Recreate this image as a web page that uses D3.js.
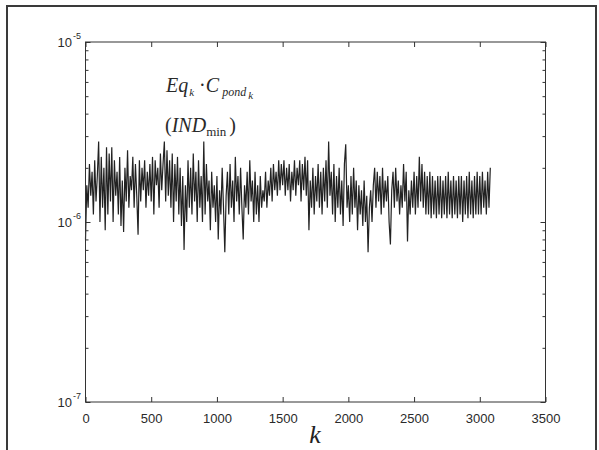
<!DOCTYPE html>
<html><head><meta charset="utf-8">
<script src="https://cdn.jsdelivr.net/npm/d3@7"></script>
<style>body{margin:0;background:#fff}svg{display:block}</style>
</head><body>
<svg id="c" width="599" height="450"></svg>
<script>
// Data: sampled every 10 iterations, values in units of 1e-6
const kStep = 10;
const valuesE6 = [
0.8,1.6,1.2,2.1,1.4,1.9,1.1,2.2,1.3,1.8,
2.8,1.0,2.3,1.2,2.0,0.9,2.6,1.1,2.4,1.3,
2.6,1.0,2.2,1.4,1.9,1.1,2.3,0.95,1.7,0.88,
2.0,1.3,2.5,1.2,1.8,1.5,2.3,1.2,2.1,1.4,
0.85,2.2,1.3,2.0,1.5,2.2,1.2,1.9,1.4,2.1,
1.3,2.3,1.1,2.2,1.6,2.0,1.2,2.4,1.5,2.1,
2.8,1.3,2.5,1.4,2.2,1.2,2.4,1.0,2.1,1.3,
2.3,1.1,2.0,0.95,1.8,0.7,1.6,1.0,2.2,1.2,
2.0,1.1,2.4,1.3,1.9,1.0,2.2,1.2,1.8,1.0,
2.8,1.1,2.1,1.3,1.7,0.9,1.9,1.2,1.6,1.0,
1.8,0.8,1.5,1.1,2.0,1.2,0.68,1.4,1.9,1.1,
2.1,1.2,1.7,1.0,2.3,1.3,1.8,1.1,2.0,1.2,
0.8,1.6,1.2,1.9,1.1,2.2,1.3,1.7,1.0,1.9,
1.1,1.6,1.0,1.8,1.2,1.5,1.3,1.9,1.2,1.7,
1.4,2.0,1.3,2.1,1.5,1.9,1.4,2.2,1.5,2.1,
1.6,2.2,1.4,2.0,1.5,2.1,1.3,1.9,1.5,2.2,
1.4,2.0,1.6,2.2,1.3,2.1,1.5,2.3,1.4,2.2,
0.9,1.7,1.2,2.0,1.1,1.8,1.3,2.1,1.2,1.9,
1.1,2.0,1.3,2.2,1.2,2.8,1.4,1.9,1.1,2.1,
1.0,1.8,1.2,2.0,1.1,1.7,0.95,2.1,2.7,1.2,
1.6,1.0,1.8,1.1,2.0,1.2,1.7,0.9,1.6,1.1,
1.5,0.95,1.7,1.0,1.4,0.68,1.2,1.5,1.0,1.6,
2.0,1.2,1.9,1.3,1.8,1.1,2.0,1.2,1.7,1.3,
1.8,1.0,0.75,1.5,1.9,1.2,2.0,1.3,1.7,1.1,
1.6,1.2,2.1,1.3,1.9,0.78,1.5,1.1,1.7,1.2,
1.9,1.1,1.8,1.2,2.3,1.3,2.1,1.2,1.9,1.1,
1.8,1.1,1.9,1.05,1.8,1.1,1.7,1.05,1.8,1.1,
1.8,1.05,1.7,1.1,1.8,1.05,1.9,1.1,1.7,1.05,
1.8,1.1,1.7,1.05,1.8,1.1,1.8,1.0,1.7,1.1,
1.8,1.05,1.9,1.1,1.7,1.05,1.8,1.1,1.9,1.1,
1.8,1.1,1.9,1.2,1.7,1.1,1.9,1.2,2.0
];
const xTicks = [0,500,1000,1500,2000,2500,3000,3500];
const yTicks = [1e-7,1e-6,1e-5];
const yTickExp = ["-7","-6","-5"];

const svg = d3.select("#c");
const L = 85.5, R = 545.5, T = 42, B = 402;
const x = d3.scaleLinear().domain([0,3500]).range([L,R]);
const y = d3.scaleLog().domain([1e-7,1e-5]).range([B,T]);

// outer frame
svg.append("rect").attr("x",7).attr("y",6).attr("width",589).attr("height",470)
  .attr("fill","none").attr("stroke","#3a3a3a").attr("stroke-width",2);

const data = valuesE6.map((v,i)=>({k:i*kStep, v:v*1e-6}));

// data line
svg.append("path").datum(data)
  .attr("fill","none").attr("stroke","#222").attr("stroke-width",1.2)
  .attr("stroke-linejoin","miter")
  .attr("d", d3.line().x(d=>x(d.k)).y(d=>y(d.v)));

// axes box
const axCol = "#333";
svg.append("rect").attr("x",L).attr("y",T).attr("width",R-L).attr("height",B-T)
  .attr("fill","none").attr("stroke",axCol).attr("stroke-width",1);

// x axis bottom & top (inward ticks)
const xb = svg.append("g").attr("transform",`translate(0,${B})`)
  .call(d3.axisBottom(x).tickValues(xTicks).tickSize(-5).tickPadding(12).tickFormat(d3.format("d")));
const xt = svg.append("g").attr("transform",`translate(0,${T})`)
  .call(d3.axisTop(x).tickValues(xTicks).tickSize(-5).tickFormat(""));
[xb,xt].forEach(g=>{g.select(".domain").remove(); g.selectAll("line").attr("stroke",axCol);});
xb.selectAll("text").attr("font-family","Arial, 'Liberation Sans', sans-serif")
  .attr("font-size",13).attr("fill","#2a2a2a");

// y minor/major ticks (log)
const yAll = [];
for (let e=-7;e<-5+0.01;e++) for (let m=1;m<=9;m++){ const v=m*Math.pow(10,e); if (v<=1e-5*1.0001) yAll.push(v);}
const yl = svg.append("g").attr("transform",`translate(${L},0)`)
  .call(d3.axisLeft(y).tickValues(yAll).tickSize(0).tickFormat(""));
const yr = svg.append("g").attr("transform",`translate(${R},0)`)
  .call(d3.axisRight(y).tickValues(yAll).tickSize(0).tickFormat(""));
[yl,yr].forEach((g,gi)=>{
  g.select(".domain").remove();
  g.selectAll(".tick line").attr("stroke",axCol).attr("x2",d=>{
    const isMajor = Math.abs(Math.log10(d)-Math.round(Math.log10(d)))<1e-6;
    const len = isMajor?5:3;
    return gi===0?len:-len;
  });
});

// y tick labels
const ylab = svg.append("g");
yTicks.forEach((t,i)=>{
  ylab.append("text").attr("x",72).attr("y",y(t)+5)
    .attr("text-anchor","end").attr("font-family","Arial, 'Liberation Sans', sans-serif")
    .attr("font-size",13).attr("fill","#2a2a2a").text("10");
  ylab.append("text").attr("x",73).attr("y",y(t)-3)
    .attr("font-family","Arial, 'Liberation Sans', sans-serif")
    .attr("font-size",9).attr("fill","#2a2a2a").text(yTickExp[i]);
});

// x label
svg.append("text").attr("x",315).attr("y",443).attr("text-anchor","middle")
  .attr("font-family","'Liberation Serif','Times New Roman',serif").attr("font-style","italic")
  .attr("font-size",26).attr("fill","#222").text("k");

// annotation
const serif = "'Liberation Serif','Times New Roman',serif";
const a1 = svg.append("text").attr("x",166).attr("y",92).attr("font-family",serif)
  .attr("font-size",20).attr("fill","#2a2a2a");
a1.append("tspan").attr("font-style","italic").text("Eq");
a1.append("tspan").attr("font-style","italic").attr("font-size",11).attr("dy",4).attr("dx",1).text("k");
a1.append("tspan").attr("dy",-4).attr("dx",5).text("·");
a1.append("tspan").attr("font-style","italic").text("C");
a1.append("tspan").attr("font-style","italic").attr("font-size",12).attr("dy",4).attr("dx",3).text("pond");
a1.append("tspan").attr("font-style","italic").attr("font-size",11).attr("dy",3).attr("dx",2).text("k");

const a2 = svg.append("text").attr("x",165).attr("y",132).attr("font-family",serif)
  .attr("font-size",20).attr("fill","#2a2a2a");
a2.append("tspan").text("(");
a2.append("tspan").attr("font-style","italic").text("IND");
a2.append("tspan").attr("font-size",13).attr("dy",4).text("min");
a2.append("tspan").attr("dy",-4).attr("dx",3).text(")");
</script>
</body></html>
